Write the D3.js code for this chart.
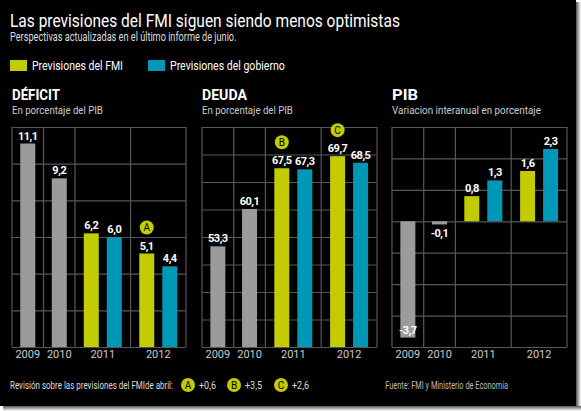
<!DOCTYPE html>
<html>
<head>
<meta charset="utf-8">
<script src="https://cdn.jsdelivr.net/npm/d3@7"></script>
<style>
body { margin: 0; background: #fff; }
svg { display: block; }
text { font-family: Roboto, "Noto Sans", sans-serif; }
</style>
</head>
<body>
<svg width="581" height="411"></svg>
<script>
// datos
var years = ["2009", "2010", "2011", "2012"];
var deficitReal = [11.1, 9.2];
var deficitFmi = [6.2, 5.1];
var deficitGob = [6.0, 4.4];
var deudaReal = [53.3, 60.1];
var deudaFmi = [67.5, 69.7];
var deudaGob = [67.3, 68.5];
var pibReal = [-3.7, -0.1];
var pibFmi = [0.8, 1.6];
var pibGob = [1.3, 2.3];
var revLetters = ["A", "B", "C"];
var revValues = ["+0,6", "+3,5", "+2,6"];

var green = "#c2cc00", blue = "#0098b6", grey = "#9b9b9b", gridc = "#575757";

var svg = d3.select("svg");

var fmt = d3.formatLocale({decimal: ",", thousands: ".", grouping: [3], currency: ["", ""], minus: "-"}).format(".1f");

// sombra + fondo
var sh = svg.append("defs");
var gr = sh.append("linearGradient").attr("id", "shR");
gr.append("stop").attr("offset", "0%").attr("stop-color", "#555");
gr.append("stop").attr("offset", "100%").attr("stop-color", "#fff");
var gb = sh.append("linearGradient").attr("id", "shB").attr("x1", 0).attr("x2", 0).attr("y1", 0).attr("y2", 1);
gb.append("stop").attr("offset", "0%").attr("stop-color", "#555");
gb.append("stop").attr("offset", "100%").attr("stop-color", "#fff");
svg.append("rect").attr("x", 576).attr("y", 2).attr("width", 5).attr("height", 409).attr("fill", "url(#shR)");
svg.append("rect").attr("x", 3).attr("y", 406).attr("width", 578).attr("height", 5).attr("fill", "url(#shB)");
svg.append("rect").attr("width", 576).attr("height", 406).attr("fill", "#000");

// texto estrechado a un ancho dado (la fuente original es condensada)
function txt(x, y, s, size, color, weight, w, anchor) {
  var t = svg.append("text").attr("x", 0).attr("y", 0).text(s)
    .attr("font-size", size).attr("fill", color).attr("font-weight", weight || 400)
    .attr("text-anchor", anchor || "start");
  var sx = 1;
  if (w) sx = w / t.node().getComputedTextLength();
  t.attr("transform", "translate(" + x + "," + y + ") scale(" + sx + ",1)");
  return t;
}

// cabecera
txt(10, 27, "Las previsiones del FMI siguen siendo menos optimistas", 18, "#fff", 400, 390);
txt(10, 41, "Perspectivas actualizadas en el último informe de junio.", 12, "#ddd", 400, 227);

var legend = [["Previsiones del FMI", green, 10, 91], ["Previsiones del gobierno", blue, 148, 115]];
legend.forEach(function(l) {
  svg.append("rect").attr("x", l[2]).attr("y", 60).attr("width", 17).attr("height", 11).attr("fill", l[1]);
  txt(l[2] + 22, 70, l[0], 12, "#fff", 400, l[3]);
});

var panels = [
  {title: "DÉFICIT", tw: 48, sub: "En porcentaje del PIB", sw: 91, x0: 12, x1: 186, dom: [0, 12], nt: 6,
   real: deficitReal, fmi: deficitFmi, gob: deficitGob, marks: [{l: 0, i: 1}]},
  {title: "DEUDA", tw: 45, sub: "En porcentaje del PIB", sw: 91, x0: 202, x1: 377, dom: [35, 75], nt: 8,
   real: deudaReal, fmi: deudaFmi, gob: deudaGob, marks: [{l: 1, i: 0}, {l: 2, i: 1}]},
  {title: "PIB", tw: 26, sub: "Variacion interanual en porcentaje", sw: 149, x0: 392, x1: 567, dom: [-4, 3], nt: 7,
   real: pibReal, fmi: pibFmi, gob: pibGob, marks: []}
];

var weights = [0, 1, 2, 3.76, 5.52];
var bw = 15, gap = 8;

function badge(cx, cy, letter) {
  svg.append("circle").attr("cx", cx).attr("cy", cy).attr("r", 7).attr("fill", green);
  svg.append("text").attr("x", cx).attr("y", cy + 3.5).attr("text-anchor", "middle")
    .attr("font-size", 10).attr("fill", "#000").text(letter);
}

panels.forEach(function(p) {
  var y = d3.scaleLinear().domain(p.dom).range([347, 127]);
  var u = d3.scaleLinear().domain([0, 5.52]).range([p.x0, p.x1]);
  var base = Math.max(p.dom[0], 0);

  txt(p.x0, 100, p.title, 14, "#fff", 700, p.tw);
  txt(p.x0, 114, p.sub, 11, "#ccc", 400, p.sw);

  var g = svg.append("g").attr("transform", "translate(" + p.x0 + ",0)")
    .call(d3.axisLeft(y).ticks(p.nt).tickSize(-(p.x1 - p.x0)).tickFormat(""));
  g.select(".domain").remove();
  g.selectAll("line").attr("stroke", gridc).attr("stroke-width", 1.2);

  svg.selectAll(null).data(weights).enter().append("line")
    .attr("x1", function(d) { return u(d); }).attr("x2", function(d) { return u(d); })
    .attr("y1", 127).attr("y2", 347).attr("stroke", gridc).attr("stroke-width", 1.2);

  var bars = [];
  p.real.forEach(function(v, i) {
    var c = (u(weights[i]) + u(weights[i + 1])) / 2;
    bars.push({v: v, x: c - bw / 2, col: grey});
  });
  p.fmi.forEach(function(v, i) {
    var c = (u(weights[i + 2]) + u(weights[i + 3])) / 2;
    bars.push({v: v, x: c - gap / 2 - bw, col: green, mark: p.marks.filter(function(m) { return m.i === i; })[0]});
    bars.push({v: p.gob[i], x: c + gap / 2, col: blue});
  });

  svg.selectAll(null).data(bars).enter().append("rect")
    .attr("x", function(d) { return d.x; })
    .attr("width", bw)
    .attr("y", function(d) { return y(Math.max(d.v, base)); })
    .attr("height", function(d) { return Math.abs(y(d.v) - y(base)); })
    .attr("fill", function(d) { return d.col; });

  svg.selectAll(null).data(bars).enter().append("text")
    .attr("x", function(d) { return d.x + bw / 2; })
    .attr("y", function(d) {
      if (d.v >= 0) return y(d.v) - 4;
      return Math.abs(y(d.v) - y(0)) > 20 ? y(d.v) - 4 : y(d.v) + 13;
    })
    .attr("text-anchor", "middle").attr("font-size", 11).attr("font-weight", 700)
    .attr("fill", "#fff").attr("letter-spacing", -0.5)
    .text(function(d) { return fmt(d.v); });

  bars.filter(function(d) { return d.mark; }).forEach(function(d) {
    badge(d.x + bw / 2, y(d.v) - 26, revLetters[d.mark.l]);
  });

  years.forEach(function(yr, i) {
    var c = (u(weights[i]) + u(weights[i + 1])) / 2;
    txt(c, 358, yr, 11, "#ccc", 400, null, "middle");
  });
});

// pie
txt(10, 389, "Revisión sobre las previsiones del FMIde abril:", 11, "#ddd", 400, 163);
var fx = [188, 234, 281];
revLetters.forEach(function(l, i) {
  badge(fx[i], 385, l);
  txt(fx[i] + 11, 389, revValues[i], 11, "#ddd", 400, 17);
});
txt(508, 389, "Fuente: FMI y Ministerio de Economía", 10, "#bbb", 400, 123, "end");
</script>
</body>
</html>
